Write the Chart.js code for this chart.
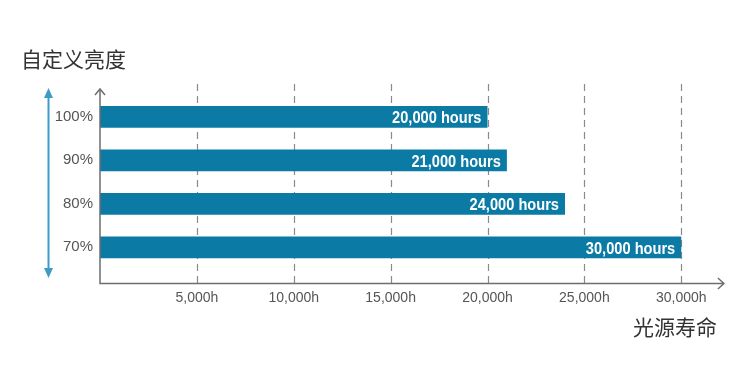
<!DOCTYPE html>
<html><head><meta charset="utf-8">
<script src="https://cdn.jsdelivr.net/npm/chart.js@4/dist/chart.umd.min.js"></script>
<style>html,body{margin:0;padding:0;background:#fff}#wrap{width:750px;height:381px}</style>
</head><body><div id="wrap"><canvas id="c" width="750" height="381"></canvas></div>
<script>
const brightness = ['100%', '90%', '80%', '70%'];
const lifeHours = [20000, 21000, 24000, 30000];
const barLabels = ['20,000 hours', '21,000 hours', '24,000 hours', '30,000 hours'];
const xTicks = [5000, 10000, 15000, 20000, 25000, 30000];
const xTickLabels = ['5,000h', '10,000h', '15,000h', '20,000h', '25,000h', '30,000h'];
const yTitle = '自定义亮度';
const xTitle = '光源寿命';

const SANS = '"Liberation Sans", Arial, sans-serif';
const CJK = '"Noto Sans CJK SC", "Noto Sans", sans-serif';

const deco = {
  id: 'deco',
  beforeDatasetsDraw(chart) {
    const ctx = chart.ctx, xs = chart.scales.x;
    ctx.save();
    ctx.strokeStyle = '#8a8a8a';
    ctx.lineWidth = 1.2;
    ctx.setLineDash([7, 5]);
    xTicks.forEach(v => {
      const px = Math.round(xs.getPixelForValue(v)) + 0.5;
      ctx.beginPath(); ctx.moveTo(px, 84); ctx.lineTo(px, 283); ctx.stroke();
    });
    ctx.restore();
  },
  afterDatasetsDraw(chart) {
    const ctx = chart.ctx, xs = chart.scales.x;
    const x0 = xs.getPixelForValue(0);
    const xe = xs.getPixelForValue(32200);
    ctx.save();
    ctx.strokeStyle = '#6e6e6e';
    ctx.lineWidth = 1.5;
    ctx.beginPath();
    ctx.moveTo(x0, 89); ctx.lineTo(x0, 283.5); ctx.lineTo(xe, 283.5);
    ctx.stroke();
    ctx.beginPath();
    ctx.moveTo(x0 - 5, 95); ctx.lineTo(x0, 89); ctx.lineTo(x0 + 5, 95);
    ctx.moveTo(xe - 6, 278); ctx.lineTo(xe, 283.5); ctx.lineTo(xe - 6, 289);
    ctx.stroke();
    // blue double arrow
    ctx.strokeStyle = '#3d9cc6';
    ctx.fillStyle = '#3d9cc6';
    ctx.lineWidth = 2;
    ctx.beginPath(); ctx.moveTo(48.5, 95); ctx.lineTo(48.5, 272); ctx.stroke();
    ctx.beginPath(); ctx.moveTo(48.5, 88); ctx.lineTo(44, 98); ctx.lineTo(53, 98); ctx.closePath(); ctx.fill();
    ctx.beginPath(); ctx.moveTo(48.5, 278); ctx.lineTo(44, 268); ctx.lineTo(53, 268); ctx.closePath(); ctx.fill();
    // bar labels (condensed)
    const meta = chart.getDatasetMeta(0);
    ctx.fillStyle = '#ffffff';
    ctx.font = 'bold 17px ' + SANS;
    ctx.textAlign = 'right';
    ctx.textBaseline = 'middle';
    meta.data.forEach((el, i) => {
      ctx.save();
      ctx.translate(el.x - 6, el.y + 2);
      ctx.scale(0.86, 1);
      ctx.fillText(barLabels[i], 0, 0);
      ctx.restore();
    });
    // titles
    ctx.fillStyle = '#333333';
    ctx.font = '21px ' + CJK;
    ctx.textAlign = 'left';
    ctx.textBaseline = 'middle';
    ctx.fillText(yTitle, 21, 59);
    ctx.textAlign = 'right';
    ctx.fillText(xTitle, 717, 327);
    ctx.restore();
  }
};

new Chart(document.getElementById('c'), {
  type: 'bar',
  data: {
    labels: brightness,
    datasets: [{
      data: lifeHours,
      backgroundColor: '#0b7aa5',
      borderWidth: 0,
      barPercentage: 1,
      categoryPercentage: 0.5
    }]
  },
  options: {
    indexAxis: 'y',
    responsive: false,
    animation: false,
    events: [],
    layout: { padding: { left: 0, right: 30, top: 95, bottom: 0 } },
    plugins: { legend: { display: false }, tooltip: { enabled: false }, title: { display: false } },
    scales: {
      x: {
        type: 'linear', min: 0, max: 32000,
        afterFit(s) { s.height = 112; },
        afterBuildTicks(s) { s.ticks = xTicks.map(v => ({ value: v })); },
        grid: { display: false, drawTicks: false },
        border: { display: false },
        ticks: {
          padding: 21,
          color: '#555555',
          font: { family: SANS, size: 14 },
          callback: (v) => xTickLabels[xTicks.indexOf(v)]
        }
      },
      y: {
        afterFit(s) { s.width = 100; },
        grid: { display: false, drawTicks: false },
        border: { display: false },
        ticks: {
          padding: 7,
          color: '#555555',
          font: { family: SANS, size: 15 }
        }
      }
    }
  },
  plugins: [deco]
});
</script></body></html>
